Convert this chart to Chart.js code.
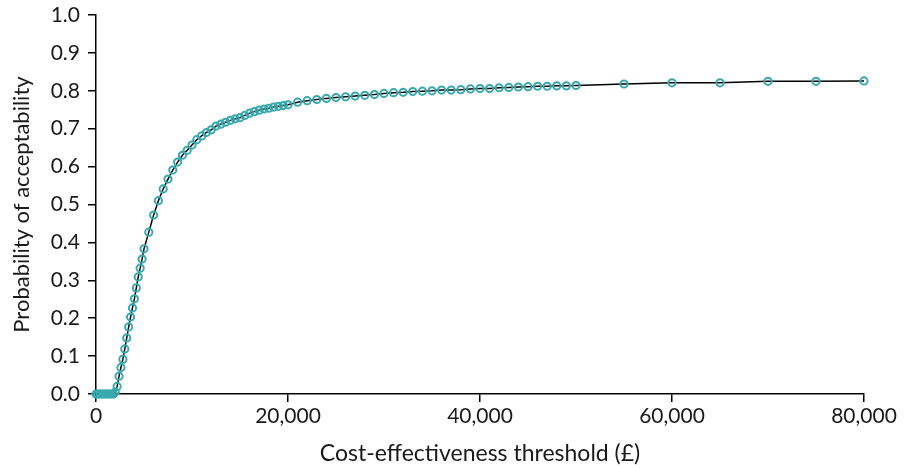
<!DOCTYPE html>
<html>
<head>
<meta charset="utf-8">
<script src="https://cdn.jsdelivr.net/npm/chart.js@4.4.1/dist/chart.umd.min.js"></script>
<style>
  html, body { margin: 0; padding: 0; background: #fff; }
  #wrap { width: 904px; height: 468px; }
</style>
</head>
<body>
<div id="wrap"><canvas id="ceac"></canvas></div>
<script>
// Umbral de coste-efectividad (£) y probabilidad de aceptabilidad
const thresholds = [
  0, 200, 400, 600, 800, 1000, 1200, 1400, 1600, 1800,
  2000, 2200, 2400, 2600, 2800, 3000, 3200, 3400, 3600, 3800,
  4000, 4200, 4400, 4600, 4800, 5000,
  5500, 6000, 6500, 7000, 7500, 8000, 8500, 9000, 9500, 10000,
  10500, 11000, 11500, 12000, 12500, 13000, 13500, 14000, 14500, 15000,
  15500, 16000, 16500, 17000, 17500, 18000, 18500, 19000, 19500, 20000,
  21000, 22000, 23000, 24000, 25000, 26000, 27000, 28000, 29000, 30000,
  31000, 32000, 33000, 34000, 35000, 36000, 37000, 38000, 39000, 40000,
  41000, 42000, 43000, 44000, 45000, 46000, 47000, 48000, 49000, 50000,
  55000, 60000, 65000, 70000, 75000, 80000
];
const probAccept = [
  0, 0, 0, 0, 0, 0, 0, 0, 0, 0,
  0.005, 0.02, 0.047, 0.07, 0.092, 0.119, 0.148, 0.177, 0.203, 0.227,
  0.251, 0.28, 0.309, 0.332, 0.356, 0.383,
  0.427, 0.472, 0.51, 0.541, 0.567, 0.591, 0.612, 0.63, 0.643, 0.657,
  0.671, 0.681, 0.69, 0.697, 0.707, 0.712, 0.717, 0.722, 0.726, 0.729,
  0.735, 0.741, 0.745, 0.749, 0.752, 0.754, 0.757, 0.759, 0.761, 0.763,
  0.77, 0.774, 0.777, 0.78, 0.782, 0.784, 0.786, 0.788, 0.79, 0.793,
  0.795, 0.796, 0.798, 0.799, 0.8, 0.802, 0.802, 0.803, 0.805, 0.806,
  0.806, 0.808, 0.809, 0.81, 0.811, 0.812, 0.812, 0.813, 0.813, 0.814,
  0.818, 0.821, 0.821, 0.825, 0.825, 0.826
];
const xTicks = [0, 20000, 40000, 60000, 80000];
const yTicks = [0, 0.1, 0.2, 0.3, 0.4, 0.5, 0.6, 0.7, 0.8, 0.9, 1.0];

const FONT = 'Lato, "Open Sans", sans-serif';
const INK = '#1a1a1a';

const ctx = document.getElementById('ceac').getContext('2d');
new Chart(ctx, {
  type: 'scatter',
  data: {
    datasets: [{
      data: thresholds.map((t, i) => ({ x: t, y: probAccept[i] })),
      showLine: true,
      borderColor: '#000',
      borderWidth: 1.5,
      tension: 0,
      pointRadius: 3.6,
      pointBorderWidth: 2,
      pointBorderColor: '#38a9ae',
      pointBackgroundColor: 'rgba(0,0,0,0)',
      clip: false
    }]
  },
  options: {
    responsive: true,
    maintainAspectRatio: false,
    animation: false,
    devicePixelRatio: 1,
    layout: { padding: { left: 0, right: 40, top: 15, bottom: 0 } },
    plugins: { legend: { display: false }, tooltip: { enabled: false } },
    scales: {
      x: {
        type: 'linear',
        min: 0, max: 80000,
        afterBuildTicks: s => { s.ticks = xTicks.map(v => ({ value: v })); },
        afterFit: s => { s.height = 74; },
        border: { color: '#000', width: 1.5 },
        grid: { drawOnChartArea: false, drawTicks: true, tickLength: 8, color: '#000', lineWidth: 1.5 },
        ticks: {
          color: INK, font: { family: FONT, size: 21 }, padding: 2,
          maxRotation: 0,
          callback: v => v.toLocaleString('en-GB')
        },
        title: {
          display: true, text: 'Cost-effectiveness threshold (£)',
          color: INK, font: { family: FONT, size: 23 }, padding: { top: 0, bottom: 1 }
        }
      },
      y: {
        type: 'linear',
        min: 0, max: 1,
        afterBuildTicks: s => { s.ticks = yTicks.map(v => ({ value: v })); },
        afterFit: s => { s.width = 96; s.paddingTop = 12; s.paddingBottom = 12; },
        border: { color: '#000', width: 1.5 },
        grid: { drawOnChartArea: false, drawTicks: true, tickLength: 8, color: '#000', lineWidth: 1.5 },
        ticks: {
          color: INK, font: { family: FONT, size: 21 }, padding: 8,
          callback: v => v.toFixed(1)
        },
        title: {
          display: true, text: 'Probability of acceptability',
          color: INK, font: { family: FONT, size: 22 }, padding: { top: 9, bottom: 0 }
        }
      }
    }
  }
});
</script>
</body>
</html>
